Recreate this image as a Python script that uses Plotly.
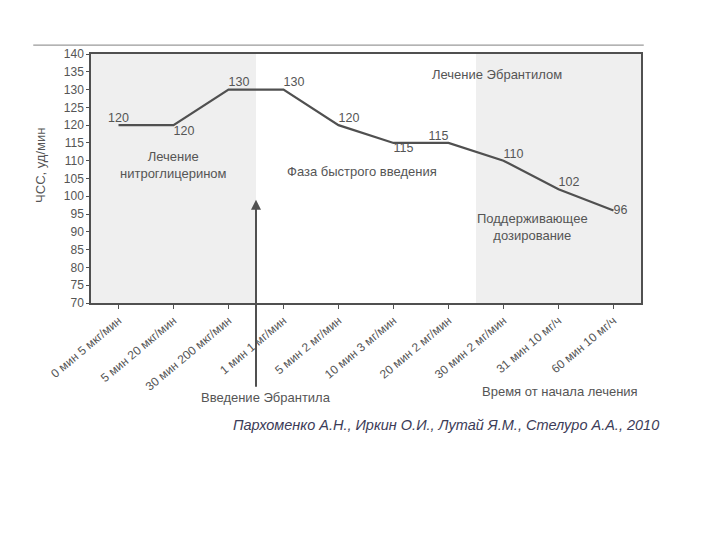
import plotly.graph_objects as go

categories = ["0 мин 5 мкг/мин", "5 мин 20 мкг/мин", "30 мин 200 мкг/мин",
              "1 мин 1 мг/мин", "5 мин 2 мг/мин", "10 мин 3 мг/мин",
              "20 мин 2 мг/мин", "30 мин 2 мг/мин", "31 мин 10 мг/ч", "60 мин 10 мг/ч"]
hr_values = [120, 120, 130, 130, 120, 115, 115, 110, 102, 96]
label_positions = ["top center", "bottom right", "top right", "top right", "top right",
                   "bottom right", "top left", "top right", "top right", "middle right"]

GREY = "#555555"
FONT = "Liberation Sans, Arial, sans-serif"

fig = go.Figure()
fig.add_trace(go.Scatter(
    x=list(range(len(categories))), y=hr_values, mode="lines+text",
    line=dict(color="#505050", width=2.2),
    text=[str(v) for v in hr_values], textposition=label_positions,
    textfont=dict(size=12.5, color=GREY, family=FONT),
    cliponaxis=False, showlegend=False, hoverinfo="skip"))

# shaded phases
for x0, x1 in [(-0.5, 2.5), (6.5, 9.5)]:
    fig.add_shape(type="rect", xref="x", yref="paper", x0=x0, x1=x1, y0=0, y1=1,
                  fillcolor="#efefef", line=dict(width=0), layer="below")

# top decorative line
fig.add_shape(type="line", xref="paper", yref="paper", x0=-0.105, x1=1.005,
              y0=1.036, y1=1.036, line=dict(color="#9a9a9a", width=1.2))

# arrow "Введение Эбрантила"
fig.add_annotation(x=2.5, y=99, ax=2.5, ay=46, xref="x", yref="y", axref="x", ayref="y",
                   text="", showarrow=True, arrowhead=2, arrowsize=1, arrowwidth=2,
                   arrowcolor="#505050")

ann_font = dict(size=13, color=GREY, family=FONT)
texts = [
    (1, 108.8, "Лечение<br>нитроглицерином", "x", "y"),
    (4.43, 107.1, "Фаза быстрого введения", "x", "y"),
    (6.88, 134.1, "Лечение Эбрантилом", "x", "y"),
    (7.52, 91.3, "Поддерживающее<br>дозирование", "x", "y"),
    (2.68, -0.378, "Введение Эбрантила", "x", "paper"),
    (8.02, -0.357, "Время от начала лечения", "x", "paper"),
]
for x, y, t, xr, yr in texts:
    fig.add_annotation(x=x, y=y, xref=xr, yref=yr, text=t, showarrow=False,
                       xanchor="center", yanchor="middle", font=ann_font)

fig.add_annotation(x=-0.093, y=0.554, xref="paper", yref="paper", text="ЧСС, уд/мин",
                   textangle=-90, showarrow=False, xanchor="center", yanchor="middle",
                   font=ann_font)
fig.add_annotation(x=0.645, y=-0.49, xref="paper", yref="paper",
                   text="<i>Пархоменко А.Н., Иркин О.И., Лутай Я.М., Стелуро А.А., 2010</i>",
                   showarrow=False, xanchor="center", yanchor="middle",
                   font=dict(size=14.5, color="#3c3c58", family=FONT))

fig.update_xaxes(tickmode="array", tickvals=list(range(len(categories))), ticktext=categories,
                 range=[-0.5, 9.5], tickangle=-40, ticks="outside", ticklen=4,
                 tickcolor="#505050", showline=True, linecolor="#505050", linewidth=2,
                 mirror=True, showgrid=False, zeroline=False,
                 tickfont=dict(size=12, color=GREY, family=FONT))
fig.update_yaxes(range=[70, 140], dtick=5, ticks="outside", ticklen=3, tickcolor="#505050",
                 showline=True, linecolor="#505050", linewidth=1.5, mirror=True,
                 showgrid=False, zeroline=False,
                 tickfont=dict(size=12, color=GREY, family=FONT))

fig.update_layout(width=704, height=524, margin=dict(l=83, r=71, t=46, b=229, autoexpand=False),
                  plot_bgcolor="white", paper_bgcolor="white", font=dict(family=FONT))

fig.write_html("out.html")
